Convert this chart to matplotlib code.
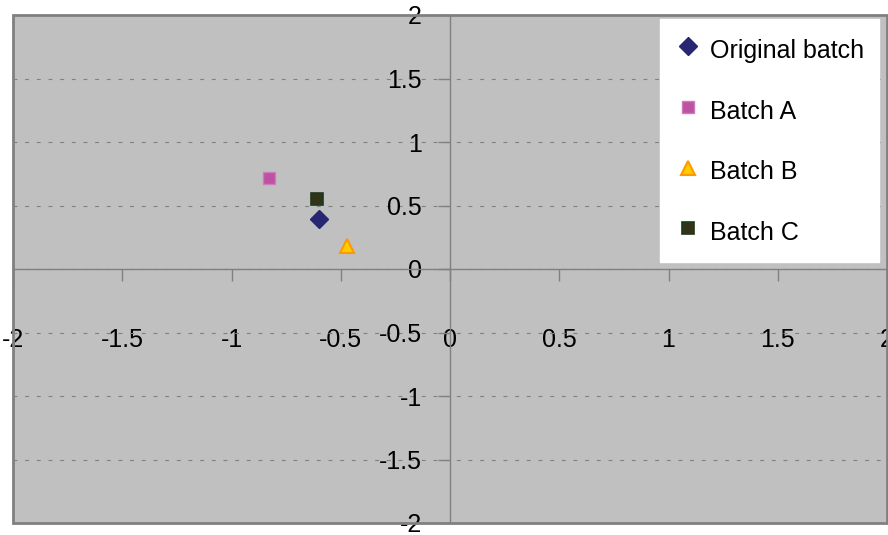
import numpy as np
import matplotlib
matplotlib.use("Agg")
import matplotlib.pyplot as plt
from matplotlib.patches import Rectangle

plt.rcParams['font.family'] = ['Liberation Sans', 'DejaVu Sans']
plt.rcParams['axes.unicode_minus'] = False

# data
series = ['Original batch', 'Batch A', 'Batch B', 'Batch C']
x_vals = [-0.60, -0.83, -0.47, -0.61]
y_vals = [0.39, 0.72, 0.18, 0.55]
ticks = [-2, -1.5, -1, -0.5, 0, 0.5, 1, 1.5, 2]
tick_labels = ['-2', '-1.5', '-1', '-0.5', '0', '0.5', '1', '1.5', '2']

# marker styles per series
styles = [
    dict(marker='D', ms=9.0, mfc='#262673', mec='#262673'),
    dict(marker='s', ms=8.0, mfc='#BE52A2', mec='#D07ABB'),
    dict(marker='^', ms=10.0, mfc='#FFCC00', mec='#FF9900', mew=1.5),
    dict(marker='s', ms=8.0, mfc='#333319', mec='#1C3A1C', mew=1.2),
]

fig = plt.figure(figsize=(8.88, 5.35), dpi=100)
ax = fig.add_axes([13 / 888, 12 / 535, 874 / 888, 508 / 535])
ax.set_facecolor('#C0C0C0')

for name, x, y, st in zip(series, x_vals, y_vals, styles):
    ax.plot([x], [y], linestyle='none', label=name, zorder=5, **st)

ax.set_xlim(-2, 2)
ax.set_ylim(-2, 2)

# axes crossing at zero, Excel style
for side in ['top', 'right']:
    ax.spines[side].set_visible(False)
ax.spines['left'].set_position(('data', 0))
ax.spines['bottom'].set_position(('data', 0))
for side in ['left', 'bottom']:
    ax.spines[side].set_color('#808080')
    ax.spines[side].set_linewidth(1.0)

ax.set_xticks(ticks)
ax.set_xticklabels(tick_labels)
ax.set_yticks(ticks)
ax.set_yticklabels(tick_labels)
ax.tick_params(axis='x', direction='out', length=8.6, width=1, color='#808080',
               pad=34, labelsize=18)
ax.tick_params(axis='y', direction='out', length=8.6, width=1, color='#808080',
               pad=11.5, labelsize=18)

# dashed horizontal gridlines
ax.grid(axis='y', linestyle=(0, (3.5, 7)), color='#808080', linewidth=0.8)
ax.grid(axis='x', visible=False)
ax.set_axisbelow(True)

# plot-area border
ax.add_patch(Rectangle((0, 0), 1, 1, transform=ax.transAxes, fill=False,
                       edgecolor='#808080', linewidth=2, clip_on=False, zorder=6))

leg = ax.legend(loc='upper right', bbox_to_anchor=(0.991, 0.992), fontsize=18,
                frameon=True, fancybox=False, facecolor='white', edgecolor='white',
                framealpha=1, labelspacing=1.2, handlelength=1.0, handleheight=1.52,
                handletextpad=0.4, borderpad=0.6, borderaxespad=0)
leg.set_zorder(7)

fig.savefig('out.png', dpi=100)
